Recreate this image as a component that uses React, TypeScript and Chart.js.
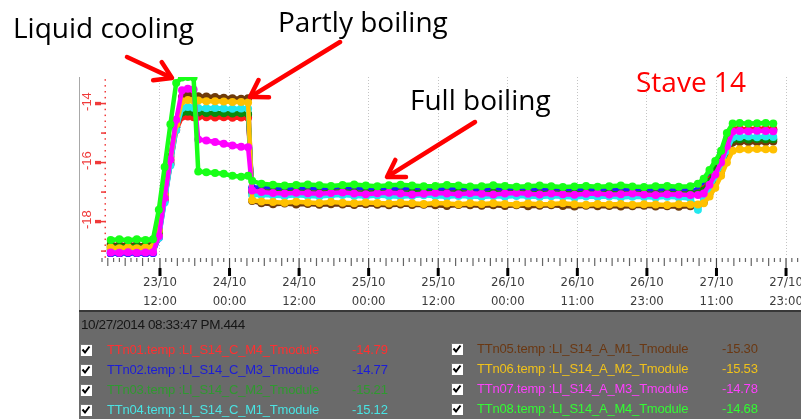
import React, { useEffect, useRef } from 'react';
import { Chart, registerables } from 'chart.js';

Chart.register(...registerables);

// ---- time axis (hours since 23/10 00:00) ----
const TIMES = [
  3.5, 5, 6.5, 8, 9.5, 10.8,
  11.8, 12.8, 13.8, 14.8, 15.8,
  16.8, 17.8,
  18.6, 20, 21.5, 23, 24.5, 26, 27.2,
  27.9,
  29.5, 31.5, 33.5, 35.5, 37.5, 39.5, 41.5, 43.5, 45.5, 47.5,
  49.5, 51.5, 53.5, 55.5, 57.5, 59.5, 61.5, 63.5, 65.5, 67.5,
  69.5, 71.5, 73.5, 75.5, 77.5, 79.5, 81.5, 83.5, 85.5, 87.5,
  89.5, 91.5, 93.5, 95.5, 97.5, 99.5, 101.5, 103.5,
  104.8, 105.8, 106.8, 107.8, 108.8, 109.8, 110.8,
  112, 113.5, 115, 116.5, 117.8,
];

const X_TICK_HOURS = [12, 24, 36, 48, 60, 72, 84, 96, 108, 120];
const X_TICK_LABELS = [
  ['23/10', '12:00'], ['24/10', '00:00'], ['24/10', '12:00'], ['25/10', '00:00'], ['25/10', '12:00'],
  ['26/10', '00:00'], ['26/10', '11:00'], ['26/10', '23:00'], ['27/10', '11:00'], ['27/10', '23:00'],
];

const Y_LABEL_TICKS = [-18, -16, -14];
const Y_MID_TICKS = [-19, -17, -15];

// ---- series values ----
const TTN01 = [
  -18.95, -18.96, -18.94, -18.95, -18.96, -18.94,
  -18.45, -17.25, -16.05, -14.9, -14.45,
  -14.44, -14.46,
  -14.45, -14.46, -14.47, -14.46, -14.48, -14.47, -14.48,
  -17.0,
  -16.98, -17.0, -17.02, -16.99, -17.01, -17.03, -17.0, -16.98, -17.01, -17.03,
  -17.0, -17.02, -17.04, -17.01, -16.99, -17.02, -17.04, -17.01, -17.03, -17.05,
  -17.02, -17.04, -17.01, -17.03, -17.05, -17.02, -17.04, -17.06, -17.03, -17.05,
  -17.03, -17.06, -17.04, -17.05, -17.07, -17.04, -17.06, -17.05,
  -17.05, -16.9, -16.6, -16.2, -15.8, -15.3, -14.88,
  -14.86, -14.87, -14.86, -14.85, -14.87,
];
const TTN02 = [
  -19.08, -19.09, -19.07, -19.08, -19.09, -19.07,
  -18.55, -17.3, -16.05, -14.8, -14.35,
  -14.34, -14.36,
  -14.36, -14.37, -14.36, -14.38, -14.37, -14.39, -14.38,
  -16.85,
  -16.84, -16.86, -16.88, -16.85, -16.87, -16.89, -16.86, -16.84, -16.87, -16.89,
  -16.86, -16.88, -16.9, -16.87, -16.85, -16.88, -16.9, -16.87, -16.89, -16.91,
  -16.88, -16.9, -16.87, -16.89, -16.91, -16.88, -16.9, -16.92, -16.89, -16.91,
  -16.89, -16.92, -16.9, -16.91, -16.93, -16.9, -16.92, -16.91,
  -16.95, -16.8, -16.5, -16.1, -15.7, -15.2, -14.9,
  -14.88, -14.89, -14.88, -14.87, -14.89,
];
const TTN03 = [
  -18.85, -18.86, -18.84, -18.85, -18.86, -18.84,
  -18.35, -17.15, -15.95, -14.8, -14.3,
  -14.28, -14.3,
  -14.3, -14.32, -14.32, -14.33, -14.34, -14.33, -14.35,
  -17.0,
  -16.98, -17.0, -17.02, -16.99, -17.01, -17.03, -17.0, -16.98, -17.01, -17.03,
  -17.0, -17.02, -17.04, -17.01, -16.99, -17.02, -17.04, -17.01, -17.03, -17.05,
  -17.02, -17.04, -17.01, -17.03, -17.05, -17.02, -17.04, -17.06, -17.03, -17.05,
  -17.03, -17.06, -17.04, -17.05, -17.07, -17.04, -17.06, -17.05,
  -17.05, -16.95, -16.65, -16.25, -15.9, -15.45, -15.22,
  -15.21, -15.22, -15.2, -15.21, -15.21,
];
const TTN04 = [
  -19.0, -19.01, -18.99, -19.0, -19.01, -18.99,
  -18.55, -17.35, -16.1, -14.9, -14.15,
  -14.12, -14.14,
  -14.15, -14.16, -14.15, -14.17, -14.18, -14.17, -14.18,
  -17.1,
  -17.1, -17.12, -17.14, -17.11, -17.13, -17.15, -17.12, -17.1, -17.13, -17.15,
  -17.12, -17.14, -17.16, -17.13, -17.11, -17.14, -17.16, -17.13, -17.15, -17.17,
  -17.14, -17.16, -17.13, -17.15, -17.17, -17.14, -17.16, -17.18, -17.15, -17.17,
  -17.15, -17.18, -17.16, -17.17, -17.19, -17.16, -17.18, -17.22,
  -17.6, -17.2, -16.9, -16.5, -16.1, -15.6, -15.15,
  -15.13, -15.12, -15.14, -15.12, -15.13,
];
const TTN05 = [
  -18.78, -18.8, -18.78, -18.79, -18.8, -18.78,
  -18.25, -17.05, -15.8, -14.6, -13.78,
  -13.72, -13.74,
  -13.75, -13.76, -13.78, -13.8, -13.82, -13.84, -13.82,
  -17.3,
  -17.38, -17.41, -17.39, -17.42, -17.4, -17.43, -17.41, -17.42, -17.44, -17.41,
  -17.43, -17.45, -17.42, -17.44, -17.43, -17.45, -17.47, -17.44, -17.45, -17.46,
  -17.45, -17.47, -17.45, -17.48, -17.46, -17.45, -17.47, -17.49, -17.46, -17.48,
  -17.47, -17.49, -17.48, -17.46, -17.49, -17.48, -17.5, -17.48,
  -17.45, -17.35, -17.05, -16.65, -16.3, -15.8, -15.32,
  -15.3, -15.3, -15.31, -15.3, -15.29,
];
const TTN06 = [
  -18.88, -18.9, -18.87, -18.9, -18.88, -18.86,
  -18.3, -17.1, -15.9, -14.7, -13.92,
  -13.88, -13.9,
  -13.9, -13.92, -13.92, -13.93, -13.95, -13.95, -13.96,
  -17.28,
  -17.32, -17.34, -17.36, -17.33, -17.35, -17.37, -17.34, -17.36, -17.38, -17.35,
  -17.37, -17.39, -17.36, -17.38, -17.4, -17.37, -17.39, -17.41, -17.38, -17.4,
  -17.38, -17.4, -17.42, -17.39, -17.41, -17.4, -17.38, -17.41, -17.43, -17.4,
  -17.42, -17.4, -17.43, -17.41, -17.42, -17.44, -17.41, -17.42,
  -17.42, -17.38, -17.15, -16.85, -16.45, -16.0, -15.6,
  -15.55, -15.56, -15.54, -15.55, -15.56,
];
const TTN07 = [
  -19.05, -19.06, -19.04, -19.06, -19.05, -19.04,
  -18.5, -17.2, -15.9, -14.55, -13.55,
  -13.5, -13.52,
  -15.22, -15.25, -15.3, -15.36, -15.42, -15.46, -15.48,
  -16.95,
  -17.0, -17.03, -17.05, -17.02, -17.04, -17.06, -17.03, -17.01, -17.05, -17.07,
  -17.04, -17.02, -17.05, -17.08, -17.06, -17.03, -17.05, -17.07, -17.04, -17.06,
  -17.08, -17.05, -17.03, -17.06, -17.08, -17.05, -17.07, -17.09, -17.06, -17.05,
  -17.08, -17.07, -17.05, -17.08, -17.1, -17.07, -17.08, -17.1,
  -17.1, -17.05, -16.75, -16.4, -16.0, -15.45, -14.95,
  -14.93, -14.94, -14.92, -14.93, -14.94,
];
const TTN08 = [
  -18.62, -18.6, -18.63, -18.6, -18.62, -18.6,
  -17.6, -16.15, -14.7, -13.3, -13.12,
  -13.1, -13.12,
  -16.3, -16.33, -16.35, -16.38, -16.45, -16.48, -16.45,
  -16.62,
  -16.72, -16.75, -16.78, -16.76, -16.74, -16.77, -16.79, -16.76, -16.74, -16.78,
  -16.8, -16.77, -16.75, -16.78, -16.8, -16.79, -16.76, -16.78, -16.81, -16.8,
  -16.77, -16.79, -16.82, -16.8, -16.78, -16.8, -16.83, -16.81, -16.79, -16.82,
  -16.8, -16.78, -16.81, -16.83, -16.8, -16.79, -16.82, -16.8,
  -16.72, -16.55, -16.25, -15.95, -15.6, -15.0, -14.68,
  -14.66, -14.68, -14.67, -14.66, -14.68,
];

const SERIES_NAMES = [
  'TTn01.temp :LI_S14_C_M4_Tmodule', 'TTn02.temp :LI_S14_C_M3_Tmodule',
  'TTn03.temp :LI_S14_C_M2_Tmodule', 'TTn04.temp :LI_S14_C_M1_Tmodule',
  'TTn05.temp :LI_S14_A_M1_Tmodule', 'TTn06.temp :LI_S14_A_M2_Tmodule',
  'TTn07.temp :LI_S14_A_M3_Tmodule', 'TTn08.temp :LI_S14_A_M4_Tmodule',
];
const SERIES_READOUTS = ['-14.79', '-14.77', '-15.21', '-15.12', '-15.30', '-15.53', '-14.78', '-14.68'];
const SERIES_VALUES = [TTN01, TTN02, TTN03, TTN04, TTN05, TTN06, TTN07, TTN08];

const LINE_COLORS = ['#ff1a1a', '#1f1fff', '#0a8a0a', '#22e8ee', '#6e3a0a', '#ffc000', '#ff00ff', '#18ff18'];
const TEXT_COLORS = ['#ff3030', '#1c1cd8', '#2f9a2f', '#48e4e4', '#6a3812', '#f0c21a', '#ff3cff', '#30ff30'];
// lower = drawn on top
const DRAW_ORDER = [5, 6, 4, 3, 7, 2, 1, 0];

const AXIS_RED = '#f03a3a';
const LABEL_FONT = "'DejaVu Sans Condensed', 'Liberation Sans Narrow', 'Liberation Sans', sans-serif";

const rulerPlugin = {
  id: 'staveRuler',
  afterDraw(chart: any) {
    const { ctx, chartArea } = chart;
    const xs = chart.scales.x;
    const ys = chart.scales.y;
    ctx.save();
    // left frame line
    ctx.fillStyle = '#a8a8a8';
    ctx.fillRect(79, chartArea.top, 1, chart.height - chartArea.top);

    // y axis (red)
    ctx.fillStyle = AXIS_RED;
    for (let v = -19.2; v <= -13.1; v += 0.2) {
      const py = ys.getPixelForValue(v);
      ctx.fillRect(104.5, py - 0.75, 1.5, 1.5);
    }
    for (const v of Y_MID_TICKS) {
      const py = ys.getPixelForValue(v);
      ctx.fillRect(101, py - 0.75, 5, 1.5);
    }
    ctx.font = `13px 'Liberation Sans', sans-serif`;
    ctx.textAlign = 'center';
    ctx.textBaseline = 'middle';
    for (const v of Y_LABEL_TICKS) {
      const py = ys.getPixelForValue(v);
      ctx.fillRect(95, py - 1.7, 6, 3.4);
      ctx.fillRect(101, py - 0.75, 5, 1.5);
      ctx.save();
      ctx.translate(87.5, py - 2);
      ctx.rotate(-Math.PI / 2);
      ctx.fillText(String(v), 0, 0);
      ctx.restore();
    }

    // x ruler
    const bottom = chartArea.bottom;
    const hStart = Math.ceil(xs.min);
    for (let h = hStart; h <= xs.max; h++) {
      const px = xs.getPixelForValue(h);
      if (X_TICK_HOURS.includes(h)) {
        ctx.fillStyle = '#444';
        ctx.fillRect(px - 0.6, bottom + 1, 1.2, 10);
        ctx.fillStyle = '#000';
        ctx.fillRect(px - 1.5, bottom + 11, 3, 8);
      } else {
        ctx.fillStyle = '#666';
        const len = h % 3 === 0 ? 8 : 4;
        ctx.fillRect(px - 0.6, bottom + 1, 1.2, len);
      }
    }
    ctx.restore();
  },
};

function Check({ left, top }: { left: number; top: number }) {
  return (
    <div style={{
      position: 'absolute', left, top, width: 12, height: 12, background: '#fff',
      borderTop: '1px solid #777', borderLeft: '1px solid #777', boxSizing: 'border-box',
    }}>
      <svg width={12} height={12} style={{ position: 'absolute', left: -1, top: -1 }}>
        <path d="M2.5 5.5 L5 8.5 L9.5 2.5" stroke="#000" strokeWidth={2} fill="none" />
      </svg>
    </div>
  );
}

function Arrow({ x1, y1, x2, y2 }: { x1: number; y1: number; x2: number; y2: number }) {
  const ang = Math.atan2(y2 - y1, x2 - x1);
  const len = 19;
  const spread = (32 * Math.PI) / 180;
  const ax = x2 - len * Math.cos(ang - spread);
  const ay = y2 - len * Math.sin(ang - spread);
  const bx = x2 - len * Math.cos(ang + spread);
  const by = y2 - len * Math.sin(ang + spread);
  return (
    <g stroke="#ff0000" strokeWidth={4.5} fill="none" strokeLinecap="round" strokeLinejoin="round">
      <line x1={x1} y1={y1} x2={x2 - 2 * Math.cos(ang)} y2={y2 - 2 * Math.sin(ang)} />
      <polyline points={`${ax},${ay} ${x2},${y2} ${bx},${by}`} />
    </g>
  );
}

export default function App() {
  const canvasRef = useRef<HTMLCanvasElement>(null);

  useEffect(() => {
    const datasets = SERIES_VALUES.map((vals, i) => ({
      label: SERIES_NAMES[i],
      data: TIMES.map((t, j) => ({ x: t, y: vals[j] })),
      borderColor: LINE_COLORS[i],
      backgroundColor: LINE_COLORS[i],
      pointBackgroundColor: LINE_COLORS[i],
      pointBorderWidth: 0,
      pointRadius: 4,
      borderWidth: 4.5,
      order: DRAW_ORDER[i],
      clip: 0,
    }));
    const chart = new Chart(canvasRef.current as HTMLCanvasElement, {
      type: 'line',
      data: { datasets },
      plugins: [rulerPlugin],
      options: {
        responsive: false,
        animation: false,
        events: [],
        layout: { padding: { left: 102, top: 77, right: 0, bottom: 0 } },
        plugins: { legend: { display: false }, tooltip: { enabled: false } },
        scales: {
          x: {
            type: 'linear',
            min: 2,
            max: 130,
            afterBuildTicks: (scale: any) => {
              scale.ticks = X_TICK_HOURS.map((v) => ({ value: v }));
            },
            afterFit: (scale: any) => {
              scale.height = 53;
            },
            grid: { color: '#c4c4c4', lineWidth: 1, drawTicks: false },
            border: { display: false, dash: [1, 2] },
            ticks: {
              autoSkip: false,
              maxRotation: 0,
              padding: 16,
              color: '#3c3c3c',
              font: { family: LABEL_FONT, size: 13, lineHeight: 19 / 13 },
              callback: (_v: any, i: number) => X_TICK_LABELS[i],
            },
          },
          y: {
            type: 'linear',
            display: false,
            min: -19.2,
            max: -13.1,
          },
        },
      } as any,
    });
    return () => chart.destroy();
  }, []);

  const annoFont = "'Open Sans', 'Liberation Sans', sans-serif";
  const panelFont = "'Liberation Sans', Arial, sans-serif";
  const rowCenters = [350, 370, 390, 409.5];
  const anno = (extra: any) => ({
    position: 'absolute' as const, fontFamily: annoFont, fontSize: 28, lineHeight: '28px',
    color: '#000', whiteSpace: 'nowrap' as const, ...extra,
  });

  return (
    <div style={{ position: 'fixed', left: 0, top: 0, width: 801, height: 419, overflow: 'hidden', background: '#fff' }}>
      <div style={{ position: 'absolute', left: 0, top: 0, width: 848, height: 310 }}>
        <canvas ref={canvasRef} width={848} height={310} style={{ display: 'block', width: 848, height: 310 }} />
      </div>

      <div style={anno({ left: 13, top: 13 })}>Liquid cooling</div>
      <div style={anno({ left: 278, top: 7 })}>Partly boiling</div>
      <div style={anno({ left: 410, top: 85 })}>Full boiling</div>
      <div style={anno({ left: 636, top: 67, color: '#ff0000' })}>Stave 14</div>

      <svg width={801} height={419} style={{ position: 'absolute', left: 0, top: 0, pointerEvents: 'none' }}>
        <Arrow x1={127} y1={57} x2={172} y2={78} />
        <Arrow x1={340} y1={42} x2={250} y2={97} />
        <Arrow x1={475} y1={122} x2={387} y2={177} />
      </svg>

      <div style={{ position: 'absolute', left: 79, top: 310, width: 722, height: 109, background: '#6a6a6a', borderTop: '2px solid #383838', boxSizing: 'border-box' }} />
      <div style={{ position: 'absolute', left: 81, top: 317, fontFamily: panelFont, fontSize: 13.5, lineHeight: '16px', color: '#161616', letterSpacing: '-0.4px', whiteSpace: 'nowrap' }}>
        10/27/2014 08:33:47 PM.444
      </div>
      {SERIES_NAMES.map((name, i) => {
        const col = i < 4 ? 0 : 1;
        const row = i % 4;
        const cy = rowCenters[row] - (col ? 1 : 0);
        const boxX = col ? 451 : 80;
        const textX = col ? 477 : 107;
        const valX = col ? 722 : 352;
        return (
          <React.Fragment key={name}>
            <Check left={boxX} top={cy - 6} />
            <div style={{ position: 'absolute', left: textX, top: cy - 8, fontFamily: panelFont, fontSize: 13, lineHeight: '16px', color: TEXT_COLORS[i], letterSpacing: '-0.2px', whiteSpace: 'nowrap' }}>{name}</div>
            <div style={{ position: 'absolute', left: valX, top: cy - 8, fontFamily: panelFont, fontSize: 13, lineHeight: '16px', color: TEXT_COLORS[i], letterSpacing: '-0.2px', whiteSpace: 'nowrap' }}>{SERIES_READOUTS[i]}</div>
          </React.Fragment>
        );
      })}
    </div>
  );
}
